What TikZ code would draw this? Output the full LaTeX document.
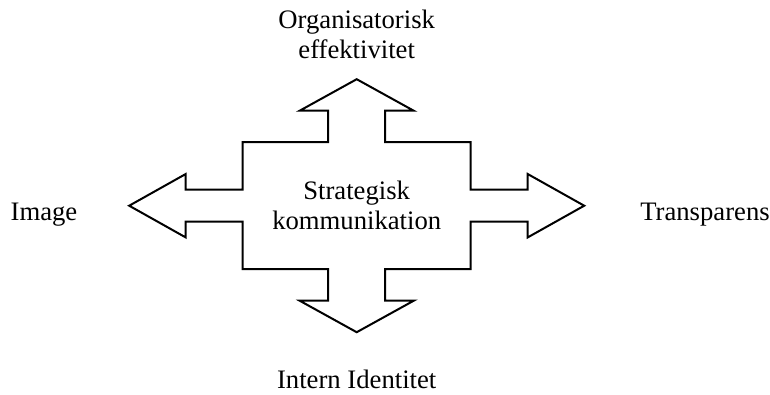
\documentclass[tikz,border=0pt]{standalone}
\usepackage{fontspec}
\setmainfont{Liberation Serif}
\usepackage{tikz}

\begin{document}
\begin{tikzpicture}[
  x=0.45pt, y=0.45pt,
  every node/.style={font=\fontsize{12}{13.6}\selectfont},
  label/.style={align=center, inner sep=0pt},
  cross/.style={draw, line width=0.9pt}
]
\useasboundingbox (-356.7,-188.3) rectangle (413.3,205.7);

% four-way arrow
\draw[cross] (0,126.5) -- (57,95) -- (28.5,95) -- (28.5,63.5) -- (114,63.5)
  -- (114,16) -- (171,16) -- (171,31.7) -- (227.5,0) -- (171,-31.7) -- (171,-16)
  -- (114,-16) -- (114,-63.5) -- (28.5,-63.5) -- (28.5,-95) -- (57,-95)
  -- (0,-126.5) -- (-57,-95) -- (-28.5,-95) -- (-28.5,-63.5) -- (-114,-63.5)
  -- (-114,-16) -- (-171,-16) -- (-171,-31.7) -- (-227.5,0) -- (-171,31.7)
  -- (-171,16) -- (-114,16) -- (-114,63.5) -- (-28.5,63.5) -- (-28.5,95)
  -- (-57,95) -- cycle;

\node[label] (center) at (0,0) {Strategisk\\kommunikation};
\node[label, anchor=south] (effekt) at (0,146.7) {Organisatorisk\\effektivitet};
\node[label, anchor=base] (image) at (-312.7,-14.3) {Image};
\node[label, anchor=base] (transp) at (348.3,-14.3) {Transparens};
\node[label, anchor=base] (identitet) at (0,-182.3) {Intern Identitet};
\end{tikzpicture}
\end{document}
